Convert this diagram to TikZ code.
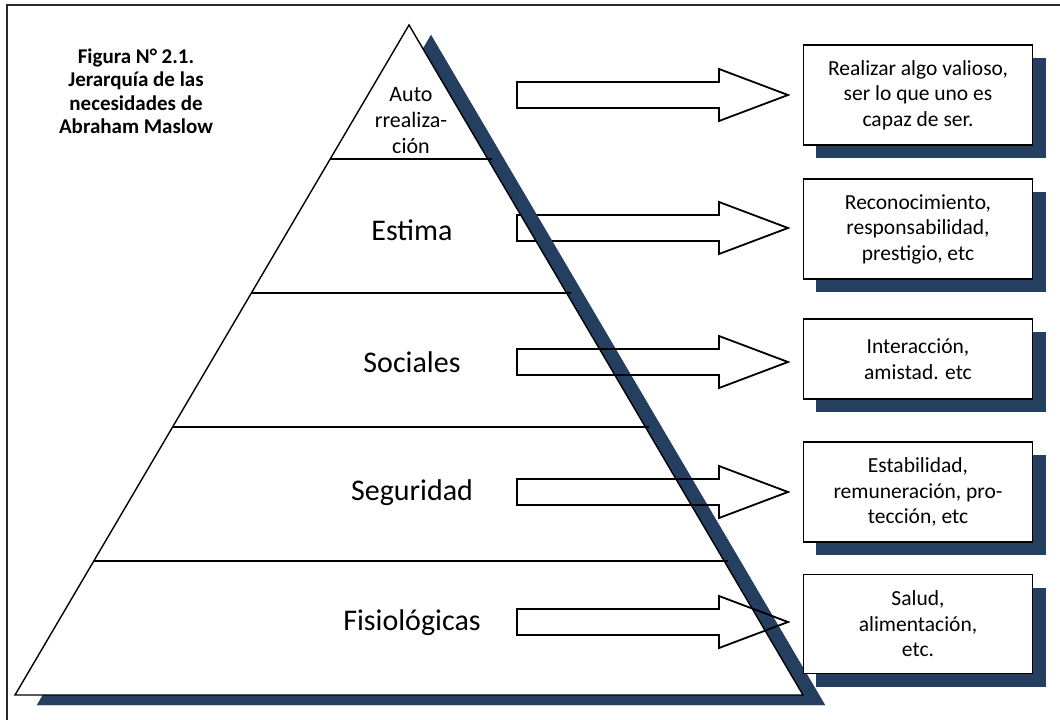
\documentclass[tikz,border=0pt]{standalone}
\usepackage{fontspec}
\setmainfont{Carlito}
\usetikzlibrary{calc}
\definecolor{navy}{HTML}{243F60}
\definecolor{framegray}{HTML}{2A2A2A}
\begin{document}
\begin{tikzpicture}[x=1pt,y=-1pt,
  frameline/.style={draw=framegray,line width=1.6pt},
  pyrline/.style={draw=black,line width=1.4pt,line join=miter},
  tierlabel/.style={font=\fontsize{30}{36}\selectfont,inner sep=0pt},
  toplabel/.style={font=\fontsize{22}{26}\selectfont,align=center,inner sep=0pt},
  caption/.style={font=\fontsize{21}{23.5}\selectfont\bfseries,align=center,inner sep=0pt},
  infobox/.style={draw=black,line width=1.3pt,fill=white,minimum width=229pt,
    minimum height=#1,align=center,inner sep=0pt,
    font=\fontsize{21.5}{25.5}\selectfont},
  boxshadow/.style={fill=navy,draw=none},
  blockarrow/.pic={
    \draw[line width=1.8pt,line join=miter]
      (0,-13) -- (202,-13) -- (202,-26) -- (271,0) -- (202,26) -- (202,13) -- (0,13) -- cycle;
  }
]
\useasboundingbox (0,0) rectangle (1060,720);

% outer frame (only top and left edges fall inside the page)
\draw[frameline] (7,725) -- (7,5) -- (1065,5);

% caption
\node[caption] (cap) at (136,91) {Figura N° 2.1.\\Jerarquía de las\\necesidades de\\Abraham Maslow};

% pyramid corners and its shadow
\coordinate (A)  at (409,25);
\coordinate (BL) at (15,695);
\coordinate (BR) at (803,695);
\coordinate (SA)  at (431,35);
\coordinate (SBL) at (37,705);
\coordinate (SBR) at (825,705);

\fill[navy] (SA) -- (SBL) -- (SBR) -- cycle;
\fill[white] (A) -- (BL) -- (BR) -- cycle;

% the Estima arrow sits under the shadow band
\pic (arr2) at (517,228) {blockarrow};
\begin{scope}
  \clip (SA) -- (SBL) -- (SBR) -- cycle;
  \fill[navy,even odd rule] (-10,-10) rectangle (1100,800) (A) -- (BL) -- (BR) -- cycle;
\end{scope}

% pyramid outline and tier separators
\draw[pyrline] (A) -- (BL) -- (BR) -- cycle;
\foreach \t/\n in {0.2/1,0.4/2,0.6/3,0.8/4}{
  \draw[pyrline] ($(A)!\t!(BL)$) -- ($(A)!\t!(BR)+(4,0)$);
}

% tier labels
\begin{scope}
  \clip (300,20) rectangle (520,152);
  \node[toplabel] (auto) at (411,121) {Auto\\rrealiza-\\ción};
\end{scope}
\node[tierlabel] (estima) at (412,230) {Estima};
\node[tierlabel] (sociales) at (412,362) {Sociales};
\node[tierlabel] (seguridad) at (412,493) {Seguridad};
\node[tierlabel] (fisio) at (412,623) {Fisiológicas};

% remaining arrows
\pic (arr1) at (517,95) {blockarrow};
\pic (arr3) at (517,362) {blockarrow};
\pic (arr4) at (517,492) {blockarrow};
\pic (arr5) at (517,622) {blockarrow};

% description boxes with offset shadows
\fill[boxshadow] (816,58)  rectangle (1046,158);
\fill[boxshadow] (816,192) rectangle (1046,292);
\fill[boxshadow] (816,332) rectangle (1046,412);
\fill[boxshadow] (816,455) rectangle (1046,555);
\fill[boxshadow] (816,588) rectangle (1046,687);

\node[infobox=100pt] (b1) at (918,95)  {Realizar algo valioso,\\ser lo que uno es\\capaz de ser.};
\node[infobox=100pt] (b2) at (918,229) {Reconocimiento,\\responsabilidad,\\prestigio, etc};
\node[infobox=80pt]  (b3) at (918,359) {Interacción,\\amistad. etc};
\node[infobox=100pt] (b4) at (918,492) {Estabilidad,\\remuneración, pro-\\tección, etc};
\node[infobox=99pt]  (b5) at (918,624) {Salud,\\alimentación,\\etc.};
\end{tikzpicture}
\end{document}
